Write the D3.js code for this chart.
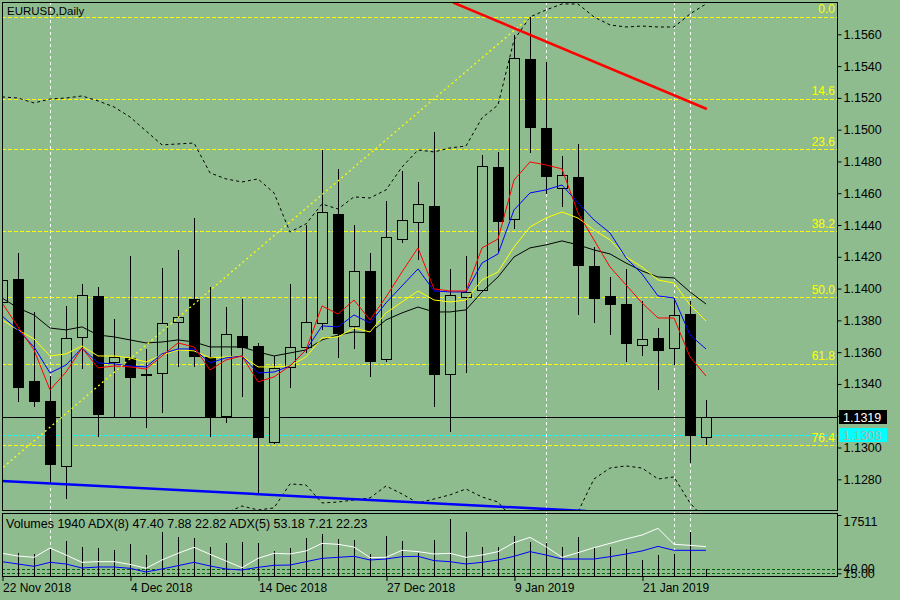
<!DOCTYPE html>
<html>
<head>
<meta charset="utf-8">
<script src="https://cdn.jsdelivr.net/npm/d3@7"></script>
<style>
body{margin:0;background:#8fbc8f;}
svg text{font-family:"Liberation Sans",Arial,sans-serif;font-size:12px;}
</style>
</head>
<body>
<script>
// EURUSD daily bars, 22 Nov 2018 - 25 Jan 2019
const dates = ['22 Nov 2018','23 Nov 2018','26 Nov 2018','27 Nov 2018','28 Nov 2018','29 Nov 2018','30 Nov 2018',
  '3 Dec 2018','4 Dec 2018','5 Dec 2018','6 Dec 2018','7 Dec 2018','10 Dec 2018','11 Dec 2018','12 Dec 2018',
  '13 Dec 2018','14 Dec 2018','17 Dec 2018','18 Dec 2018','19 Dec 2018','20 Dec 2018','21 Dec 2018','24 Dec 2018',
  '26 Dec 2018','27 Dec 2018','28 Dec 2018','31 Dec 2018','2 Jan 2019','3 Jan 2019','4 Jan 2019','7 Jan 2019',
  '8 Jan 2019','9 Jan 2019','10 Jan 2019','11 Jan 2019','14 Jan 2019','15 Jan 2019','16 Jan 2019','17 Jan 2019',
  '18 Jan 2019','21 Jan 2019','22 Jan 2019','23 Jan 2019','24 Jan 2019','25 Jan 2019'];

const open  = [1.13916,1.14061,1.13419,1.13293,1.12884,1.13696,1.13954,1.13538,1.13564,1.13463,1.13469,1.13790,1.13935,1.13570,1.13199,
  1.13702,1.13639,1.13035,1.13507,1.13633,1.13784,1.14470,1.13765,1.14111,1.13557,1.14312,1.14419,1.14520,1.13463,1.13947,
  1.13991,1.14765,1.14438,1.15445,1.15011,1.14633,1.14702,1.14142,1.13954,1.13903,1.13645,1.13689,1.13626,1.13840,1.13066];
const high  = [1.14079,1.14224,1.13853,1.13450,1.13891,1.14029,1.14010,1.13809,1.14205,1.13620,1.14130,1.14243,1.14444,1.14010,1.13884,
  1.13935,1.13658,1.13576,1.14029,1.14400,1.14872,1.14753,1.14400,1.14224,1.14551,1.14740,1.14671,1.14986,1.14124,1.14205,
  1.14841,1.14860,1.15596,1.15709,1.15426,1.14834,1.14910,1.14262,1.14073,1.14124,1.13922,1.13752,1.13941,1.13922,1.13299];
const low   = [1.13897,1.13287,1.13255,1.12777,1.12676,1.13494,1.13066,1.13192,1.13192,1.13123,1.13217,1.13507,1.13507,1.13066,1.13155,
  1.13318,1.12708,1.13022,1.13375,1.13595,1.13740,1.13564,1.13620,1.13444,1.13538,1.14287,1.14180,1.13255,1.13098,1.13469,
  1.13979,1.14224,1.14375,1.14853,1.14595,1.14514,1.13834,1.13784,1.13708,1.13538,1.13576,1.13362,1.13519,1.12903,1.13016];
const close = [1.14054,1.13381,1.13293,1.12897,1.13689,1.13960,1.13211,1.13570,1.13444,1.13463,1.13784,1.13821,1.13576,1.13192,1.13715,
  1.13633,1.13066,1.13501,1.13633,1.13790,1.14482,1.13721,1.14111,1.13545,1.14325,1.14432,1.14532,1.13463,1.13960,1.13979,
  1.14772,1.14426,1.15451,1.15017,1.14709,1.14715,1.14149,1.13941,1.13903,1.13658,1.13683,1.13614,1.13834,1.13079,1.13192];
const volume = [6800,6690,6410,7820,10170,8390,8100,7340,9230,5930,12710,11300,10930,8390,9520,9690,9400,7060,7910,10820,
  12060,10650,10450,6410,11580,10080,6500,10250,16300,12510,8190,8190,11380,9690,9520,8190,11300,7990,8190,7820,
  4520,5930,6300,12510,1940];

// moving averages
const maRed = [1.13910,1.13759,1.13614,1.13362,1.13475,1.13626,1.13501,1.13513,1.13507,1.13494,1.13576,1.13658,1.13633,1.13488,1.13551,
  1.13576,1.13413,1.13444,1.13513,1.13614,1.13891,1.13840,1.13928,1.13803,1.13947,1.14105,1.14256,1.13998,1.13985,1.13985,
  1.14256,1.14312,1.14683,1.14797,1.14778,1.14753,1.14476,1.14306,1.14136,1.14023,1.13910,1.13815,1.13815,1.13570,1.13450];
const maBlue = [1.13828,1.13740,1.13633,1.13469,1.13519,1.13626,1.13532,1.13526,1.13513,1.13507,1.13589,1.13620,1.13620,1.13532,1.13564,
  1.13576,1.13469,1.13475,1.13513,1.13614,1.13765,1.13759,1.13834,1.13784,1.13910,1.14017,1.14124,1.13985,1.13979,1.13979,
  1.14161,1.14218,1.14495,1.14602,1.14621,1.14652,1.14539,1.14432,1.14350,1.14193,1.14092,1.13954,1.13941,1.13708,1.13620];
const maYellow = [1.13803,1.13740,1.13683,1.13576,1.13589,1.13639,1.13576,1.13576,1.13564,1.13538,1.13582,1.13614,1.13608,1.13564,1.13570,
  1.13576,1.13507,1.13507,1.13513,1.13570,1.13689,1.13696,1.13752,1.13727,1.13847,1.13916,1.13985,1.13928,1.13916,1.13928,
  1.14054,1.14105,1.14262,1.14388,1.14444,1.14482,1.14444,1.14369,1.14306,1.14199,1.14136,1.14054,1.14035,1.13897,1.13796];
const maBlack = [1.13941,1.13878,1.13834,1.13752,1.13740,1.13759,1.13708,1.13696,1.13677,1.13658,1.13664,1.13677,1.13664,1.13633,1.13633,
  1.13633,1.13601,1.13576,1.13595,1.13614,1.13677,1.13708,1.13727,1.13721,1.13803,1.13847,1.13884,1.13853,1.13853,1.13866,
  1.13979,1.14073,1.14199,1.14256,1.14275,1.14300,1.14275,1.14243,1.14218,1.14161,1.14111,1.14073,1.14067,1.13979,1.13903];
const bandUpper = [1.15206,1.15199,1.15168,1.15193,1.15199,1.15212,1.15181,1.15143,1.15080,1.14992,1.14904,1.14910,1.14916,1.14728,1.14690,
  1.14671,1.14690,1.14602,1.14356,1.14407,1.14532,1.14501,1.14577,1.14570,1.14621,1.14765,1.14872,1.14860,1.14885,1.14897,
  1.15074,1.15155,1.15564,1.15709,1.15753,1.15791,1.15791,1.15709,1.15659,1.15646,1.15652,1.15646,1.15646,1.15728,1.15791];
const bandLower = [1.1238,1.1240,1.1240,1.1236,1.1236,1.1238,1.1240,1.1242,1.1244,1.1247,1.1250,1.1252,1.1254,1.1256,1.12588,
  1.12632,1.12607,1.12620,1.12771,1.12764,1.12651,1.12657,1.12670,1.12683,1.12758,1.12708,1.12651,1.12676,1.12702,1.12739,
  1.12689,1.12657,1.12544,1.12418,1.12387,1.12418,1.12595,1.12802,1.12871,1.12884,1.12871,1.12802,1.12815,1.12651,1.12544];

// sub window lines
const adxWhite = [37.8,33.3,31.1,46.7,35,22.8,23.9,23.9,19.4,12.8,26.7,37.8,47.8,36.1,25,13.9,29.4,37.8,36.7,41.7,
  54.4,52.8,48.3,30.6,31.1,42.8,40.6,36.7,37.8,31.1,35,40.6,55.6,64.4,48.9,31.1,38.9,47.2,54.4,61.7,68.3,79.4,52.8,51.1,48.9];
const adxBlue = [23.9,20,16.1,22.8,20,13.3,15,15,12.8,6.7,11.7,17.2,22.8,16.7,11.7,10,14.4,17.8,18.3,23.9,
  29.4,31.1,32.8,26.7,28.3,32.2,32.8,25.6,23.9,20,22.8,26.7,32.8,40.6,35,28.3,28.3,28.3,32.2,36.7,41.7,49.4,42.8,42.8,42.8];
const adxLevels = [15,40];

// objects
const fibLabels = ['0.0','14.6','23.6','38.2','50.0','61.8','76.4'];
const fibPrices = [1.1571,1.15195,1.14877,1.14361,1.13945,1.13528,1.13013];
const fibDiag = [{i:-8,p:1.1218},{i:33,p:1.1571}];
const redTrend = [{i:28.2,p:1.1580},{i:44.05,p:1.1513}];
const blueTrend = [{i:0,p:1.1279},{i:36.5,p:1.1260}];
const vLines = ['27 Nov 2018','11 Jan 2019','23 Jan 2019','24 Jan 2019'];
const lastPrice = 1.1319, bidPrice = 1.1308;
const priceTicks = [1.1280,1.1300,1.1320,1.1340,1.1360,1.1380,1.1400,1.1420,1.1440,1.1460,1.1480,1.1500,1.1520,1.1540,1.1560];
const xLabels = ['22 Nov 2018','4 Dec 2018','14 Dec 2018','27 Dec 2018','9 Jan 2019','21 Jan 2019'];

const bg = '#8fbc8f';
const L = 2, R = 837, T = 2, B = 510, VT = 513, VB = 576;

const svg = d3.select('body').append('svg').attr('width',900).attr('height',600);
svg.append('rect').attr('width',900).attr('height',600).style('fill',bg);

const x = d3.scaleLinear().domain([0,44]).range([2,706]);
const y = d3.scaleLinear().domain([1.1280,1.1560]).range([479.3,34.3]);
const yv = d3.scaleLinear().domain([0,17511]).range([VB,515]);
const ya = d3.scaleLinear().domain([0,100]).range([VB,516]);
const yl = d3.scaleLinear().domain([0,100]).range([VB,558]);
const xd = d => Math.round(x(dates.indexOf(d))) + 0.5;
const py = p => Math.round(y(p)) + 0.5;

const defs = svg.append('defs');
defs.append('clipPath').attr('id','cm').append('rect').attr('x',L).attr('y',T).attr('width',R-L).attr('height',B-T);
defs.append('clipPath').attr('id','cv').append('rect').attr('x',L).attr('y',VT).attr('width',R-L).attr('height',VB-VT);

// vertical lines through both panes, behind the bars
svg.append('g').style('shape-rendering','crispEdges')
   .selectAll('line').data(vLines).join('line')
   .attr('x1',xd).attr('x2',xd).attr('y1',T).attr('y2',VB)
   .style('stroke','#ffffff').style('stroke-dasharray','3,3');

const main = svg.append('g').attr('clip-path','url(#cm)');
const vol = svg.append('g').attr('clip-path','url(#cv)');

// fibo levels
main.append('g').style('shape-rendering','crispEdges')
    .selectAll('line').data(fibPrices).join('line')
    .attr('x1',L).attr('x2',R).attr('y1',py).attr('y2',py)
    .style('stroke','#ffff00').style('stroke-dasharray','4,2');

// envelope bands
const lineP = d3.line().x((d,i)=>x(i)).y(d=>y(d));
[bandUpper,bandLower].forEach(b=>{
  main.append('path').attr('d',lineP(b)).style('fill','none').style('stroke','#000').style('stroke-dasharray','3,3');
});

// last price & bid
main.append('line').attr('x1',L).attr('x2',R).attr('y1',py(lastPrice)).attr('y2',py(lastPrice))
    .style('stroke','#000').style('shape-rendering','crispEdges');
main.append('line').attr('x1',L).attr('x2',R).attr('y1',py(bidPrice)).attr('y2',py(bidPrice))
    .style('stroke','#00ffff').style('stroke-dasharray','4,2').style('shape-rendering','crispEdges');

// candles
const bars = dates.map((d,i)=>({i,o:open[i],h:high[i],l:low[i],c:close[i]}));
const cg = main.append('g').style('shape-rendering','crispEdges');
cg.selectAll('line').data(bars).join('line')
  .attr('x1',d=>Math.round(x(d.i))+0.5).attr('x2',d=>Math.round(x(d.i))+0.5)
  .attr('y1',d=>y(d.h)).attr('y2',d=>y(d.l)).style('stroke','#000');
cg.selectAll('rect').data(bars).join('rect')
  .attr('x',d=>Math.round(x(d.i))-4.5).attr('width',10)
  .attr('y',d=>Math.round(y(Math.max(d.o,d.c)))+0.5)
  .attr('height',d=>Math.max(1,Math.round(Math.abs(y(d.o)-y(d.c)))))
  .style('fill',d=>d.c>=d.o?bg:'#000').style('stroke','#000');

// moving averages
[[maBlack,'#000000'],[maYellow,'#ffff00'],[maBlue,'#0000ff'],[maRed,'#ff0000']].forEach(([m,col])=>{
  main.append('path').attr('d',lineP(m)).style('fill','none').style('stroke',col).style('stroke-width',1);
});

// trend lines
const lineT = d3.line().x(d=>x(d.i)).y(d=>y(d.p));
main.append('path').attr('d',lineT(fibDiag)).style('stroke','#ffff00').style('stroke-width',1.3)
    .style('stroke-dasharray','2,3').style('fill','none');
main.append('path').attr('d',lineT(redTrend)).style('stroke','#ff0000').style('stroke-width',2.5).style('fill','none');
main.append('path').attr('d',lineT(blueTrend)).style('stroke','#0000ff').style('stroke-width',2.5).style('fill','none');

// fibo labels
main.selectAll('text.fl').data(fibLabels).join('text').attr('class','fl')
    .attr('x',835).attr('y',(d,i)=>y(fibPrices[i])-3.5).attr('text-anchor','end')
    .style('fill','#ffff00').text(d=>d);

main.append('text').attr('x',7).attr('y',15).style('font-size','11.5px').text('EURUSD,Daily');

// volume pane
vol.append('g').style('shape-rendering','crispEdges')
   .selectAll('line').data(adxLevels).join('line')
   .attr('x1',L).attr('x2',R).attr('y1',d=>Math.round(yl(d))+0.5).attr('y2',d=>Math.round(yl(d))+0.5)
   .style('stroke','#006400').style('stroke-dasharray','3,2');
vol.append('g').style('shape-rendering','crispEdges')
   .selectAll('line').data(volume).join('line')
   .attr('x1',(d,i)=>Math.round(x(i))+0.5).attr('x2',(d,i)=>Math.round(x(i))+0.5)
   .attr('y1',VB).attr('y2',d=>yv(d)).style('stroke','#000');
const lineA = d3.line().x((d,i)=>x(i)).y(d=>ya(d));
vol.append('path').attr('d',lineA(adxWhite)).style('fill','none').style('stroke','#ffffff');
vol.append('path').attr('d',lineA(adxBlue)).style('fill','none').style('stroke','#0000ff');
vol.append('text').attr('x',6).attr('y',528).style('font-size','12.5px')
   .text('Volumes 1940 ADX(8) 47.40 7.88 22.82 ADX(5) 53.18 7.21 22.23');

// pane borders
svg.append('rect').attr('x',L+0.5).attr('y',T+0.5).attr('width',R-L).attr('height',B-T)
   .style('fill','none').style('stroke','#000').style('shape-rendering','crispEdges');
svg.append('rect').attr('x',L+0.5).attr('y',VT+0.5).attr('width',R-L).attr('height',VB-VT)
   .style('fill','none').style('stroke','#000').style('shape-rendering','crispEdges');

// price axis
const ay = svg.append('g').attr('transform',`translate(${R+0.5},0)`)
   .call(d3.axisRight(y).tickValues(priceTicks).tickFormat(d3.format('.4f')).tickSize(4).tickPadding(2));
ay.select('.domain').remove();
ay.selectAll('text').style('font-size','12.5px').style('fill','#000');

// price labels
[[lastPrice,'#000','#ffffff'],[bidPrice,'#00ffff','#a2b6a2']].forEach(([p,f,t])=>{
  const yy = Math.round(y(p));
  svg.append('rect').attr('x',839).attr('y',yy-7).attr('width',48).attr('height',14).style('fill',f);
  svg.append('text').attr('x',843).attr('y',yy+4.5).style('font-size','12.5px').style('fill',t).text(d3.format('.4f')(p));
});

// volume axis
const av = svg.append('g').attr('transform',`translate(${R+0.5},0)`)
   .call(d3.axisRight(yv).tickValues([17511]).tickFormat(d3.format('d')).tickSize(4).tickPadding(2));
av.select('.domain').remove();
av.selectAll('text').attr('dy','10').style('font-size','12.5px');
const al = svg.append('g').attr('transform',`translate(${R+0.5},0)`)
   .call(d3.axisRight(yl).tickValues(adxLevels).tickFormat(d3.format('.2f')).tickSize(4).tickPadding(2));
al.select('.domain').remove();
al.selectAll('text').style('font-size','12.5px');

// time axis
const ax = svg.append('g').attr('transform',`translate(0.5,${VB})`)
   .call(d3.axisBottom(x).tickValues(xLabels.map(d=>dates.indexOf(d))).tickFormat(i=>dates[i]).tickSize(5).tickPadding(2));
ax.select('.domain').remove();
ax.selectAll('text').attr('text-anchor','start').style('font-size','12px').style('fill','#000');
</script>
</body>
</html>
